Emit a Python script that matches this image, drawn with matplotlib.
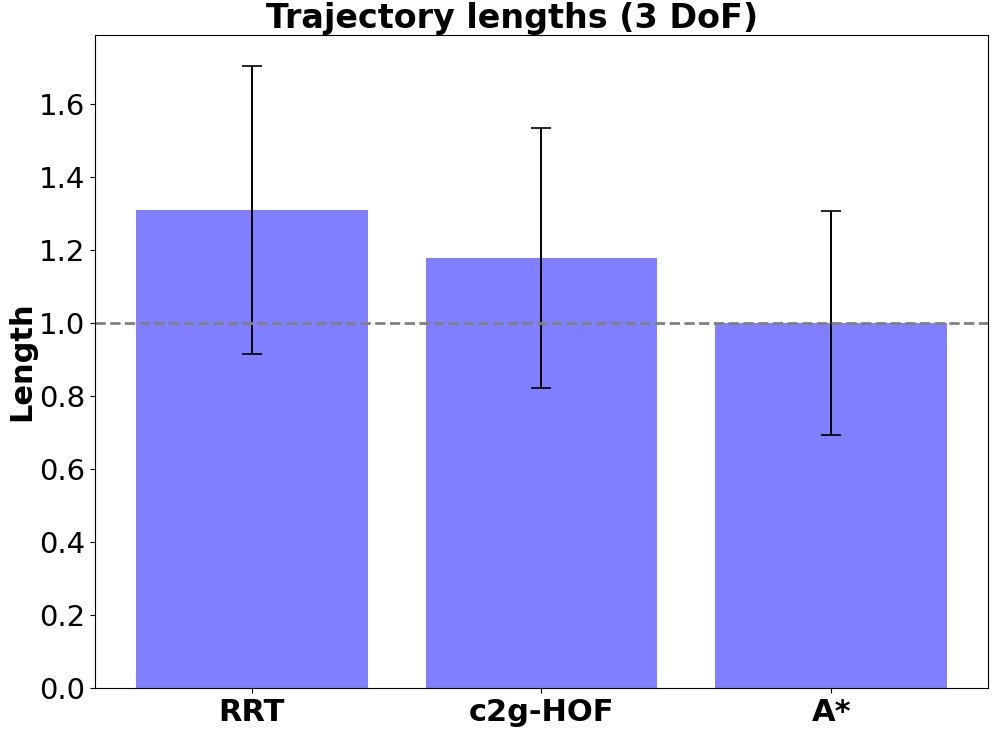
import matplotlib
matplotlib.use("Agg")
import matplotlib.pyplot as plt

methods = ["RRT", "c2g-HOF", "A*"]
mean_lengths = [1.310, 1.178, 1.000]
std_lengths = [0.395, 0.356, 0.307]
reference_value = 1.0

fig = plt.figure(figsize=(9.95, 7.31), dpi=100)
ax = fig.add_axes([95/995, 1-688/731, (988-95)/995, (688-35)/731])

x = range(len(methods))
ax.bar(x, mean_lengths, yerr=std_lengths, color="blue", alpha=0.5,
       capsize=7.5, error_kw=dict(ecolor="black", elinewidth=1.4, capthick=1.2))
ax.axhline(reference_value, color="gray", linestyle="--", linewidth=2)
ax.set_xticks(list(x))
ax.set_xticklabels(methods, fontsize=22, fontweight="bold")
ax.tick_params(axis="y", labelsize=21)
ax.set_ylabel("Length", fontsize=22, fontweight="bold", labelpad=2)
ax.set_title("Trajectory lengths (3 DoF)", fontsize=24, fontweight="bold",
             x=(512-95)/893, pad=3)

fig.savefig("out.png", dpi=100)
